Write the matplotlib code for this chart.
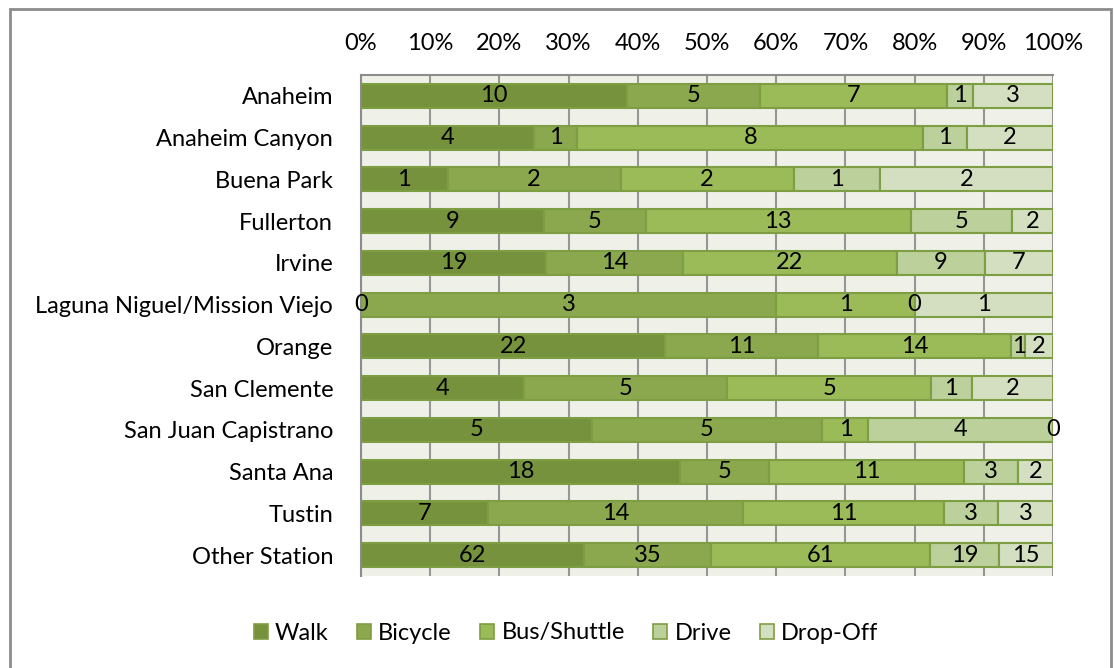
import matplotlib
matplotlib.use("Agg")
import matplotlib.pyplot as plt
from matplotlib.patches import Rectangle, Patch
import numpy as np

plt.rcParams['font.family'] = ['Lato', 'DejaVu Sans']

stations = ["Anaheim", "Anaheim Canyon", "Buena Park", "Fullerton", "Irvine",
            "Laguna Niguel/Mission Viejo", "Orange", "San Clemente",
            "San Juan Capistrano", "Santa Ana", "Tustin", "Other Station"]
modes = ["Walk", "Bicycle", "Bus/Shuttle", "Drive", "Drop-Off"]

walk = [10, 4, 1, 9, 19, 0, 22, 4, 5, 18, 7, 62]
bicycle = [5, 1, 2, 5, 14, 3, 11, 5, 5, 5, 14, 35]
bus_shuttle = [7, 8, 2, 13, 22, 1, 14, 5, 1, 11, 11, 61]
drive = [1, 1, 1, 5, 9, 0, 1, 1, 4, 3, 3, 19]
drop_off = [3, 2, 2, 2, 7, 1, 2, 2, 0, 2, 3, 15]

colors = ["#76923C", "#8BA84F", "#9BBB59", "#BBD09A", "#D3DFC0"]
edge = "#7E9E44"
fs = 17

series = np.array([walk, bicycle, bus_shuttle, drive, drop_off], dtype=float)
totals = series.sum(axis=0)
shares = series / totals * 100

fig = plt.figure(figsize=(11.15, 6.68), dpi=100)
ax = fig.add_axes([361 / 1115, 1 - 576 / 668, 692 / 1115, 501 / 668])
ax.set_facecolor("#EFF1E9")

y = np.arange(len(stations))
left = np.zeros(len(stations))
for i, name in enumerate(modes):
    ax.barh(y, shares[i], left=left, height=0.58, color=colors[i],
            edgecolor=edge, linewidth=1.5, label=name, zorder=3)
    for j in range(len(stations)):
        cx = left[j] + shares[i][j] / 2
        ax.text(cx, y[j], f"{int(series[i][j])}", ha="center", va="center",
                fontsize=fs, color="#000000", zorder=4)
    left = left + shares[i]

ax.set_xlim(0, 100)
ax.set_ylim(len(stations) - 0.5, -0.5)
ax.set_yticks(y)
ax.set_yticklabels(stations, fontsize=fs)
ax.set_xticks(np.arange(0, 101, 10))
ax.set_xticklabels([f"{v}%" for v in range(0, 101, 10)], fontsize=fs)
ax.xaxis.tick_top()
ax.tick_params(axis="x", length=0, pad=15)
ax.tick_params(axis="y", length=0, pad=20)
ax.grid(axis="x", color="#969696", linewidth=1.5, zorder=1)
for side in ["right", "bottom"]:
    ax.spines[side].set_visible(False)
for side in ["left", "top"]:
    ax.spines[side].set_color("#8C8C8C")
    ax.spines[side].set_linewidth(1.5)

handles = [Patch(facecolor=colors[i], edgecolor=edge, linewidth=1.2, label=modes[i])
           for i in range(len(modes))]
fig.legend(handles=handles, loc="center", bbox_to_anchor=(566 / 1115, 1 - 633 / 668),
           ncol=5, frameon=False, fontsize=fs, handlelength=0.6, handleheight=0.6,
           handletextpad=0.3, columnspacing=1.2)

fig.patches.append(Rectangle((10 / 1115, -0.05), 1101 / 1115, 1.05 - 9 / 668,
                             transform=fig.transFigure, fill=False,
                             edgecolor="#8C8C8C", linewidth=2))

fig.savefig("out.png", dpi=100)
